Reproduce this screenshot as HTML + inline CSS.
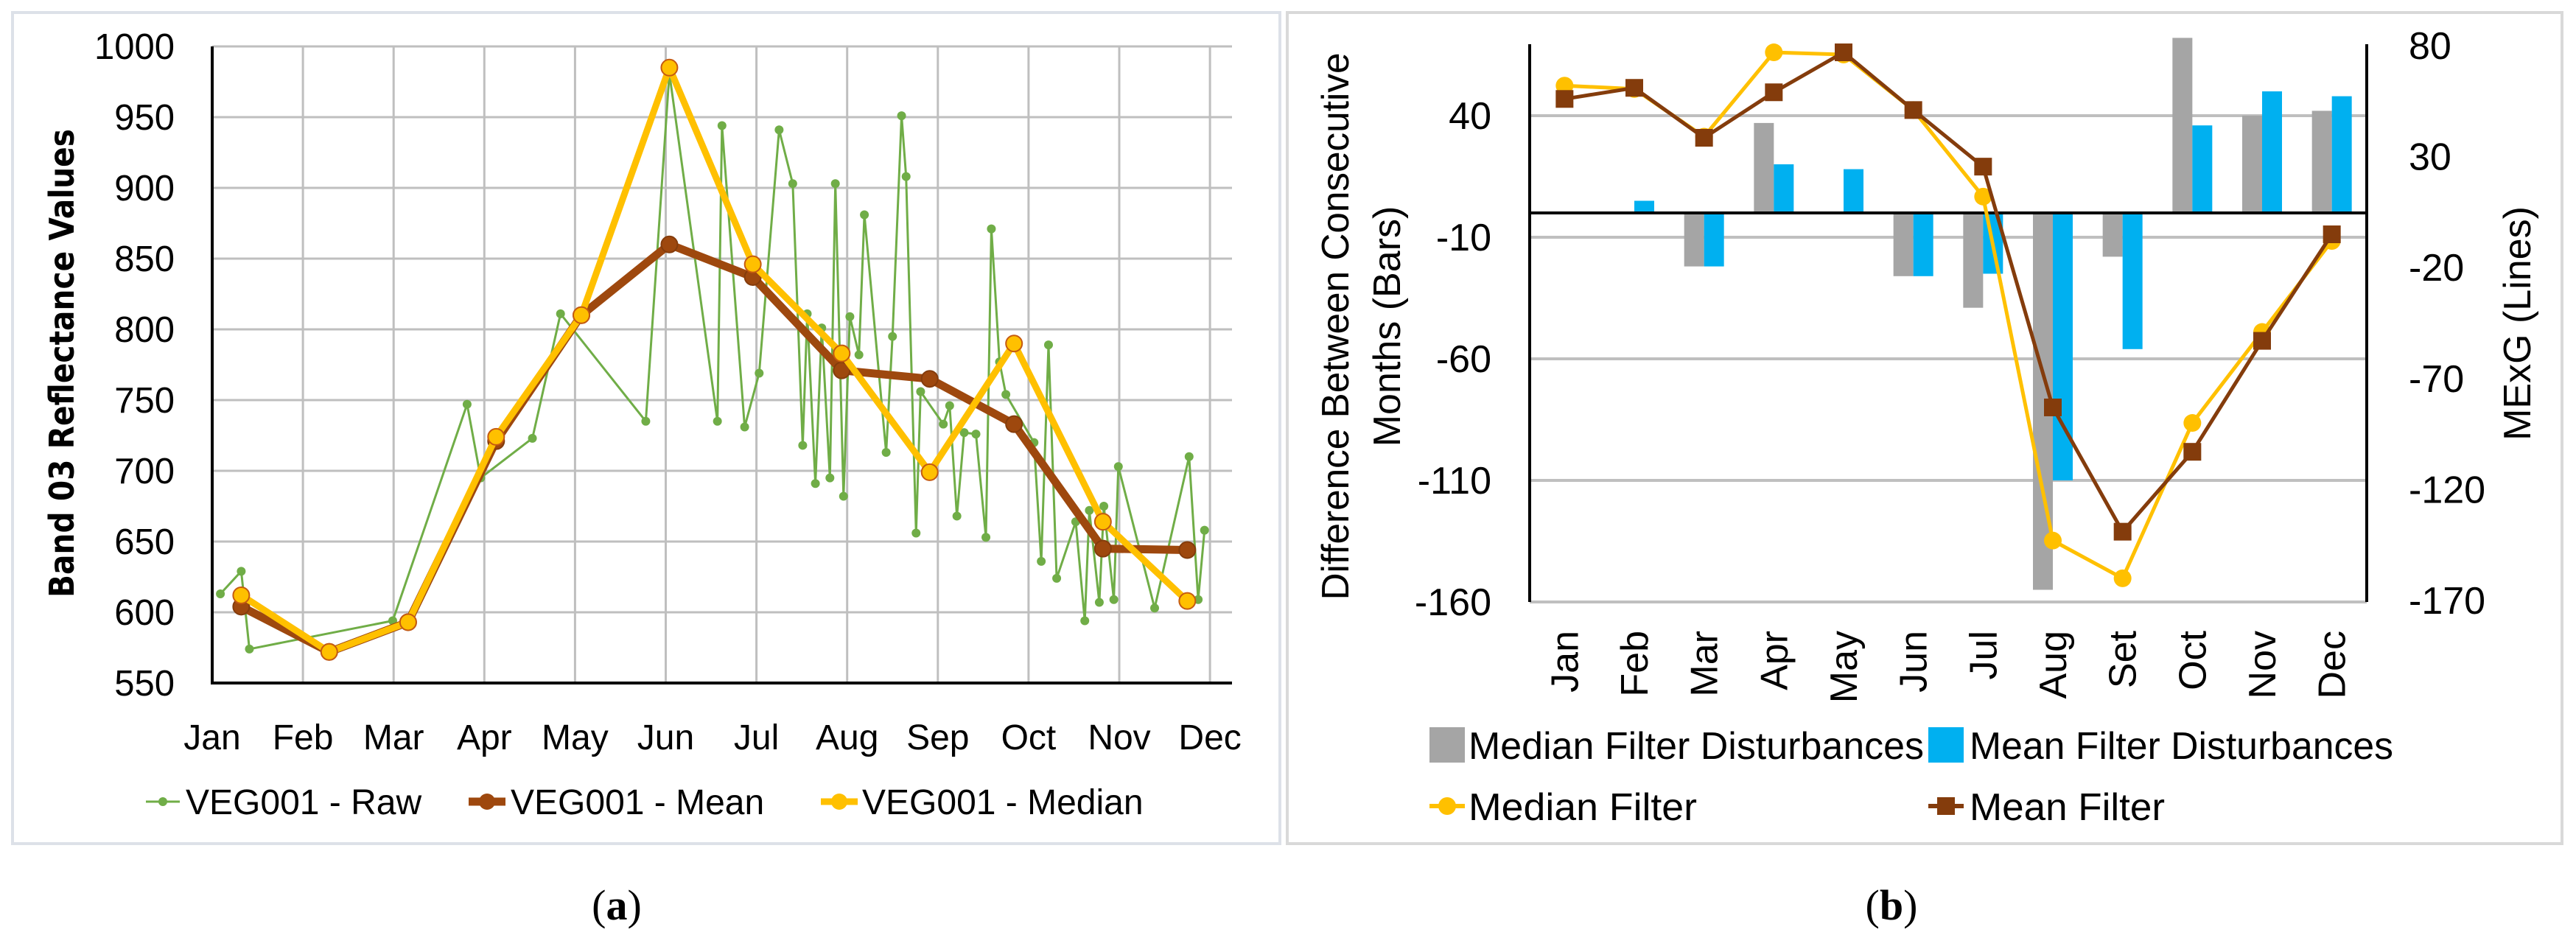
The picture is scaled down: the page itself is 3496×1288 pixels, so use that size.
<!DOCTYPE html>
<html><head><meta charset="utf-8"><style>
html,body{margin:0;padding:0;background:#fff;}
svg{display:block;font-family:"Liberation Sans",sans-serif;}
</style></head><body>
<svg id="fig" width="3496" height="1288" viewBox="0 0 3496 1288" xmlns="http://www.w3.org/2000/svg">
<rect x="17" y="17" width="1720" height="1128" fill="#fff" stroke="#dde1e8" stroke-width="4"/>
<rect x="1747" y="17" width="1730" height="1128" fill="#fff" stroke="#d9d9d9" stroke-width="4"/>
<g id="ga"></g>
<g id="gb"></g>
<text x="837" y="1248" text-anchor="middle" font-family="Liberation Serif,serif" font-size="58">(<tspan font-weight="bold">a</tspan>)</text>
<text x="2567" y="1248" text-anchor="middle" font-family="Liberation Serif,serif" font-size="58">(<tspan font-weight="bold">b</tspan>)</text>
</svg>
<script>
// ---- Panel (a) data ----
const monthsA = ["Jan","Feb","Mar","Apr","May","Jun","Jul","Aug","Sep","Oct","Nov","Dec"];
const yTicksA = [550,600,650,700,750,800,850,900,950,1000];
const rawX = [0.09,0.32,0.41,1.99,2.81,2.96,3.53,3.84,4.78,5.04,5.57,5.62,5.87,6.03,6.25,6.40,6.51,6.56,6.65,6.72,6.81,6.87,6.96,7.03,7.13,7.19,7.43,7.50,7.60,7.65,7.76,7.81,8.06,8.13,8.21,8.29,8.42,8.53,8.59,8.68,8.75,9.06,9.14,9.22,9.31,9.52,9.62,9.67,9.78,9.83,9.94,9.99,10.39,10.77,10.87,10.94];
const rawY = [613,629,574,594,747,695,723,811,735,981,735,944,731,769,941,903,718,811,691,801,695,903,682,809,782,881,713,795,951,908,656,756,733,746,668,727,726,653,871,777,754,720,636,789,624,664,594,672,607,675,609,703,603,710,609,658];
const filtX = [0.32,1.29,2.16,3.13,4.07,5.04,5.96,6.94,7.91,8.84,9.82,10.75];
const meanA = [604,572,593,721,810,860,837,771,765,733,645,644];
const medianA = [612,572,593,724,810,985,846,783,699,790,664,608];

// ---- Panel (b) data ----
const monthsB = ["Jan","Feb","Mar","Apr","May","Jun","Jul","Aug","Set","Oct","Nov","Dec"];
const leftTicksB = [40,-10,-60,-110,-160];
const rightTicksB = [80,30,-20,-70,-120,-170];
const medianDist = [0,0,-22,37,0,-26,-39,-155,-18,72,40,42];
const meanDist = [0,5,-22,20,18,-26,-25,-110,-56,36,50,48];
const medianLine = [62,60.5,39,77,76,51,12,-143,-160,-90,-49,-8];
const meanLine = [56,61,38.5,59,77,51,25.5,-83,-139,-103,-53,-5];

const NS="http://www.w3.org/2000/svg";
function mk(parent,tag,attrs,text){const e=document.createElementNS(NS,tag);for(const k in attrs)e.setAttribute(k,attrs[k]);if(text!==undefined)e.textContent=text;parent.appendChild(e);return e;}

// ===== Panel A =====
const ga=document.getElementById('ga');
const AX0=288, AX1=1672, AY0=927, AY1=63, MSTEP=123.1;
const xa=m=>AX0+m*MSTEP;
const ya=v=>AY0-(v-550)*(AY0-AY1)/450;
yTicksA.forEach(v=>{
  if(v>550){const l=mk(ga,'line',{x1:AX0,x2:AX1,y1:ya(v),y2:ya(v),stroke:'#bfbfbf','stroke-width':3});
  
  }
  const t=mk(ga,'text',{x:237,y:ya(v)+17,'text-anchor':'end','font-size':49},String(v));
  
  
});
monthsA.forEach((m,i)=>{
  if(i>0){const l=mk(ga,'line',{x1:xa(i),x2:xa(i),y1:AY1,y2:AY0,stroke:'#bfbfbf','stroke-width':3});
  
  }
  const t=mk(ga,'text',{x:xa(i),y:1017,'text-anchor':'middle','font-size':48},m);
  
  
});
let ax=mk(ga,'path',{d:`M${AX0},${AY1} V${AY0} H${AX1}`,fill:'none',stroke:'#000','stroke-width':4});


let yt=mk(ga,'text',{x:0,y:0,transform:`translate(100,493) rotate(-90)`,'text-anchor':'middle','font-size':46,'font-weight':'bold','font-family':'DejaVu Sans,sans-serif',textLength:636,lengthAdjust:'spacingAndGlyphs'},'Band 03 Reflectance Values');



function poly(g,xs,ys,fx,fy){return xs.map((x,i)=>fx(x)+','+fy(ys[i])).join(' ');}
// raw
let rl=mk(ga,'polyline',{points:poly(ga,rawX,rawY,xa,ya),fill:'none',stroke:'#70ad47','stroke-width':3,'stroke-linejoin':'round'});


rawX.forEach((x,i)=>{const c=mk(ga,'circle',{cx:xa(x),cy:ya(rawY[i]),r:6,fill:'#70ad47'});

});
// mean
let ml=mk(ga,'polyline',{points:poly(ga,filtX,meanA,xa,ya),fill:'none',stroke:'#9e480e','stroke-width':11,'stroke-linejoin':'round'});


filtX.forEach((x,i)=>{const c=mk(ga,'circle',{cx:xa(x),cy:ya(meanA[i]),r:11,fill:'#9e480e',stroke:'#843c0c','stroke-width':2});

});
// median
let dl=mk(ga,'polyline',{points:poly(ga,filtX,medianA,xa,ya),fill:'none',stroke:'#ffc000','stroke-width':9,'stroke-linejoin':'round'});


filtX.forEach((x,i)=>{const c=mk(ga,'circle',{cx:xa(x),cy:ya(medianA[i]),r:11,fill:'#ffc000',stroke:'#c55a11','stroke-width':2});

});
// legend a
const LY=1088;
let lg;
lg=mk(ga,'line',{x1:198,x2:244,y1:LY,y2:LY,stroke:'#70ad47','stroke-width':3});


lg=mk(ga,'circle',{cx:221,cy:LY,r:6,fill:'#70ad47'});


lg=mk(ga,'text',{x:252,y:LY+17,'font-size':48},'VEG001 - Raw');


lg=mk(ga,'line',{x1:636,x2:686,y1:LY,y2:LY,stroke:'#9e480e','stroke-width':11});


lg=mk(ga,'circle',{cx:661,cy:LY,r:11,fill:'#9e480e'});


lg=mk(ga,'text',{x:693,y:LY+17,'font-size':48},'VEG001 - Mean');


lg=mk(ga,'line',{x1:1114,x2:1164,y1:LY,y2:LY,stroke:'#ffc000','stroke-width':9});


lg=mk(ga,'circle',{cx:1139,cy:LY,r:11,fill:'#ffc000'});


lg=mk(ga,'text',{x:1170,y:LY+17,'font-size':48},'VEG001 - Median');



// ===== Panel B =====
const gb=document.getElementById('gb');
const BX0=2076, BX1=3212, BSTEP=(BX1-BX0)/12;
const xb=i=>BX0+(i+0.5)*BSTEP;
const yl=v=>289-v*3.3;
const yr=v=>62+(80-v)*(815-62)/250;
leftTicksB.forEach(v=>{
  const l=mk(gb,'line',{x1:BX0,x2:BX1,y1:yl(v),y2:yl(v),stroke:'#bfbfbf','stroke-width':4});
  
  
  const t=mk(gb,'text',{x:2024,y:yl(v)+18,'text-anchor':'end','font-size':52},String(v));
  
  
});
rightTicksB.forEach(v=>{
  const t=mk(gb,'text',{x:3269,y:yr(v)+18,'font-size':52},String(v));
  
  
});
const BW=27;
monthsB.forEach((m,i)=>{
  const cx=xb(i);
  const v1=medianDist[i], v2=meanDist[i];
  if(v1!==0){const r=mk(gb,'rect',{x:cx-BW,y:Math.min(yl(v1),yl(0)),width:BW,height:Math.abs(yl(v1)-yl(0)),fill:'#a5a5a5'});
  
  }
  if(v2!==0){const r=mk(gb,'rect',{x:cx,y:Math.min(yl(v2),yl(0)),width:BW,height:Math.abs(yl(v2)-yl(0)),fill:'#00b0f0'});
  
  }
  const t=mk(gb,'text',{x:cx+18,y:856,transform:`rotate(-90 ${cx+18} 856)`,'text-anchor':'end','font-size':52},m);
  
  
});
let zl=mk(gb,'line',{x1:BX0,x2:BX1,y1:yl(0),y2:yl(0),stroke:'#000','stroke-width':4});


let la=mk(gb,'line',{x1:BX0,x2:BX0,y1:60,y2:yl(-160),stroke:'#000','stroke-width':4});


let ra=mk(gb,'line',{x1:BX1,x2:BX1,y1:60,y2:yl(-160),stroke:'#000','stroke-width':4});


const idx=monthsB.map((_,i)=>i);
let mdl=mk(gb,'polyline',{points:poly(gb,idx,medianLine,xb,yr),fill:'none',stroke:'#ffc000','stroke-width':5});


idx.forEach(i=>{const c=mk(gb,'circle',{cx:xb(i),cy:yr(medianLine[i]),r:12,fill:'#ffc000'});

});
let mnl=mk(gb,'polyline',{points:poly(gb,idx,meanLine,xb,yr),fill:'none',stroke:'#843c0c','stroke-width':5});


idx.forEach(i=>{const c=mk(gb,'rect',{x:xb(i)-12,y:yr(meanLine[i])-12,width:24,height:24,fill:'#843c0c'});

});
let t1=mk(gb,'text',{transform:'translate(1830,443) rotate(-90)','text-anchor':'middle','font-size':52,textLength:743,lengthAdjust:'spacingAndGlyphs'},'Difference Between Consecutive');


let t2=mk(gb,'text',{transform:'translate(1900,443) rotate(-90)','text-anchor':'middle','font-size':52},'Months (Bars)');


let t3=mk(gb,'text',{transform:'translate(3434,439) rotate(-90)','text-anchor':'middle','font-size':52},'MExG (Lines)');


// legend b
let e;
e=mk(gb,'rect',{x:1940,y:987,width:48,height:48,fill:'#a5a5a5'});


e=mk(gb,'text',{x:1993,y:1030,'font-size':52,textLength:618,lengthAdjust:'spacingAndGlyphs'},'Median Filter Disturbances');


e=mk(gb,'rect',{x:2617,y:987,width:48,height:48,fill:'#00b0f0'});


e=mk(gb,'text',{x:2673,y:1030,'font-size':52,textLength:575,lengthAdjust:'spacingAndGlyphs'},'Mean Filter Disturbances');


e=mk(gb,'line',{x1:1940,x2:1988,y1:1094,y2:1094,stroke:'#ffc000','stroke-width':6});


e=mk(gb,'circle',{cx:1964,cy:1094,r:12,fill:'#ffc000'});


e=mk(gb,'text',{x:1993,y:1113,'font-size':52,textLength:310,lengthAdjust:'spacingAndGlyphs'},'Median Filter');


e=mk(gb,'line',{x1:2617,x2:2665,y1:1094,y2:1094,stroke:'#843c0c','stroke-width':6});


e=mk(gb,'rect',{x:2629,y:1082,width:24,height:24,fill:'#843c0c'});


e=mk(gb,'text',{x:2673,y:1113,'font-size':52,textLength:265,lengthAdjust:'spacingAndGlyphs'},'Mean Filter');


</script>
</body></html>
